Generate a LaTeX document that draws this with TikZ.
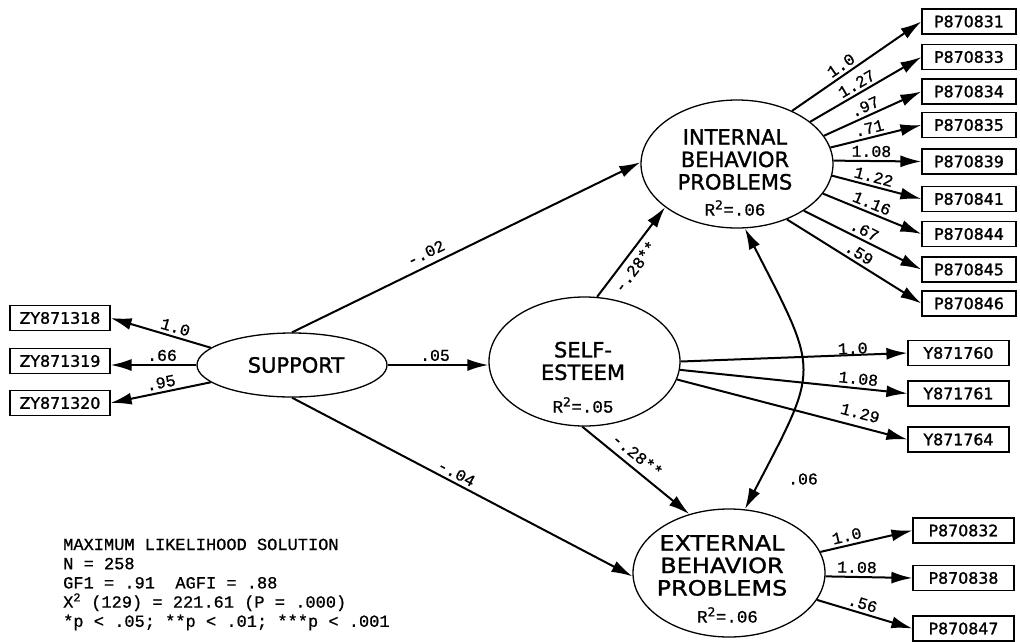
\documentclass[tikz,border=0pt]{standalone}
\usepackage{fontspec}
\setmainfont[FakeBold=1.4]{DejaVu Sans}
\setmonofont[FakeBold=0.8]{Liberation Mono}
\newfontfamily\widesans[FakeStretch=1.14,FakeBold=1.4]{DejaVu Sans}
\usetikzlibrary{shapes.geometric,arrows.meta}

\begin{document}
\begin{tikzpicture}[x=1pt,y=-1pt,
  latent/.style={draw, ellipse, line width=1.3pt, inner sep=0pt},
  manifest/.style={draw, rectangle, line width=1.2pt, minimum height=25pt,
    inner sep=0pt, font=\fontsize{15.8}{18}\selectfont},
  lname/.style={align=center, inner sep=0pt, font=\fontsize{21}{22.5}\selectfont},
  rsq/.style={inner sep=0pt, font=\fontsize{17.5}{18}\selectfont\ttfamily},
  path/.style={line width=2pt, -{Latex[length=21pt,width=12pt]}},
  both/.style={line width=2pt, {Latex[length=21pt,width=12pt]}-{Latex[length=21pt,width=12pt]}},
  coef/.style={inner sep=3pt, font=\fontsize{16.5}{17}\selectfont\ttfamily},
]
\fill[white] (0,0) rectangle (1020,641);
\useasboundingbox (0,0) rectangle (1020,641);

% latent variables
\node[latent, minimum width=190pt, minimum height=64pt] (sup) at (292,365) {};
\node[lname] (suptext) at (296,365) {SUPPORT};

\node[latent, minimum width=191pt, minimum height=129pt] (self) at (584.5,361.5) {};
\node[lname] (selftext) at (583,361) {SELF-\\ESTEEM};
\node[rsq] (selfr) at (583,405) {R\textsuperscript{\rmfamily 2}=.05};

\node[latent, minimum width=192pt, minimum height=128pt] (int) at (737,164) {};
\node[lname] (inttext) at (735,159.5) {INTERNAL\\BEHAVIOR\\PROBLEMS};
\node[rsq] (intr) at (735,208) {R\textsuperscript{\rmfamily 2}=.06};

\node[latent, minimum width=192pt, minimum height=128pt] (ext) at (729,573) {};
\node[lname, font=\fontsize{21}{22.5}\widesans] (exttext) at (722,565.5) {EXTERNAL\\BEHAVIOR\\PROBLEMS};
\node[rsq] (extr) at (727.5,615) {R\textsuperscript{\rmfamily 2}=.06};

% indicators of SUPPORT
\node[manifest, minimum width=100pt] (zy18) at (60,318) {ZY871318};
\node[manifest, minimum width=100pt] (zy19) at (60,361) {ZY871319};
\node[manifest, minimum width=100pt] (zy20) at (60,403) {ZY871320};

% indicators of INTERNAL BEHAVIOR PROBLEMS
\node[manifest, minimum width=94pt] (p831) at (969,21.5) {P870831};
\node[manifest, minimum width=94pt] (p833) at (969,57) {P870833};
\node[manifest, minimum width=94pt] (p834) at (969,91.5) {P870834};
\node[manifest, minimum width=94pt] (p835) at (969,125) {P870835};
\node[manifest, minimum width=94pt] (p839) at (969,161.5) {P870839};
\node[manifest, minimum width=94pt] (p841) at (969,199) {P870841};
\node[manifest, minimum width=94pt] (p844) at (969,234) {P870844};
\node[manifest, minimum width=94pt] (p845) at (969,269.5) {P870845};
\node[manifest, minimum width=94pt] (p846) at (969,303.5) {P870846};

% indicators of SELF-ESTEEM
\node[manifest, minimum width=101pt] (y60) at (958.5,353) {Y871760};
\node[manifest, minimum width=101pt] (y61) at (958.5,393.5) {Y871761};
\node[manifest, minimum width=101pt] (y64) at (958.5,439.5) {Y871764};

% indicators of EXTERNAL BEHAVIOR PROBLEMS
\node[manifest, minimum width=101pt] (p832) at (963.5,530.5) {P870832};
\node[manifest, minimum width=101pt] (p838) at (963.5,578) {P870838};
\node[manifest, minimum width=101pt] (p847) at (963.5,628.5) {P870847};

% measurement paths
\draw[path] (sup.168) -- node[coef, sloped, above, pos=.38] {1.0} (zy18.east);
\draw[path] (sup.west) -- node[coef, sloped, above, pos=.4] {.66} (sup.west -| zy19.east);
\draw[path] (sup.-168) -- node[coef, sloped, above, pos=.48] {.95} (zy20.east);

\draw[path] (int.44) -- node[coef, sloped, above, pos=.42] {1.0} (p831.west);
\draw[path] (int.30) -- node[coef, sloped, above, pos=.46] {1.27} (p833.west);
\draw[path] (int.18) -- node[coef, sloped, above, pos=.46] {.97} (p834.west);
\draw[path] (int.10) -- node[coef, sloped, above, pos=.45] {.71} (p835.west);
\draw[path] (int.2) -- node[coef, sloped, above, pos=.43] {1.08} (p839.west);
\draw[path] (int.-7) -- node[coef, sloped, above, pos=.44] {1.22} (p841.west);
\draw[path] (int.-19) -- node[coef, sloped, above, pos=.46] {1.16} (p844.west);
\draw[path] (int.-35) -- node[coef, sloped, above, pos=.48] {.67} (p845.west);
\draw[path] (int.-48) -- node[coef, sloped, above, pos=.5] {.59} (p846.west);

\draw[path] (self.0) -- node[coef, sloped, above=-3pt, pos=.76] {1.0} (y60.west);
\draw[path] (self.-5) -- node[coef, sloped, above, pos=.78] {1.08} (y61.west);
\draw[path] (self.-11) -- node[coef, sloped, above=4pt, pos=.78] {1.29} (y64.west);

\draw[path] (ext.13) -- node[coef, sloped, above, pos=.31] {1.0} (p832.west);
\draw[path] (ext.-2) -- node[coef, sloped, above, pos=.36] {1.08} (p838.west);
\draw[path] (ext.-17) -- node[coef, sloped, above, pos=.45] {.56} (p847.west);

% structural paths
\draw[path] (sup.90) -- node[coef, sloped, above=3pt, pos=.4] {-.02} (int.179);
\draw[path] (sup.east) -- node[coef, above, pos=.47] {.05} (sup.east -| self.west);
\draw[path] (sup.270) -- node[coef, sloped, above, pos=.47] {-.04} (ext.182);
\draw[path] (self.79) -- node[coef, sloped, below=2pt, pos=.42] {-.28**} (int.211);
\draw[path] (self.268) -- node[coef, sloped, above=3pt, pos=.44] {-.28**} (ext.124);

% residual covariance
\draw[both] (int.-83) .. controls (820,375) and (820,365) .. (ext.76);
\node[coef] (cov) at (803,479) {.06};

% fit statistics
\node[anchor=west, align=left, inner sep=0pt,
  font=\fontsize{17}{19.2}\selectfont\ttfamily] (fitstats) at (63,584.5)
  {MAXIMUM LIKELIHOOD SOLUTION\\
   N = 258\\
   GF1 = .91~~AGFI = .88\\
   X\textsuperscript{2} (129) = 221.61 (P = .000)\\
   *p < .05; **p < .01; ***p < .001};
\end{tikzpicture}
\end{document}
